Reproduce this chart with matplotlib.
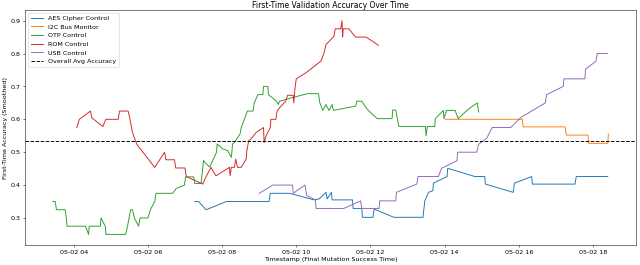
import matplotlib
matplotlib.use("Agg")
import matplotlib.pyplot as plt
import matplotlib.dates as mdates
import pandas as pd

DATE = "2024-05-02 "

aes_t = ["07:16", "07:22", "07:34", "08:07", "09:16", "09:18", "09:49", "10:29", "10:37", "10:48",
         "10:50", "10:57", "10:58", "11:31", "11:32", "11:46", "11:47", "12:04", "12:06", "12:38",
         "13:25", "13:28", "13:34", "13:41", "13:42", "14:04", "14:05", "14:49", "15:05", "15:06",
         "15:51", "15:53", "16:21", "16:22", "17:31", "17:33", "18:24"]
aes_v = [0.350, 0.350, 0.325, 0.350, 0.350, 0.375, 0.375, 0.355, 0.358, 0.378,
         0.358, 0.378, 0.355, 0.355, 0.329, 0.329, 0.302, 0.302, 0.327, 0.302,
         0.302, 0.352, 0.378, 0.383, 0.406, 0.426, 0.451, 0.426, 0.426, 0.403,
         0.378, 0.406, 0.426, 0.403, 0.403, 0.426, 0.426]

i2c_t = ["14:01", "16:06", "16:07", "17:15", "17:17", "17:52", "17:53", "18:24", "18:25"]
i2c_v = [0.600, 0.600, 0.577, 0.577, 0.552, 0.552, 0.527, 0.527, 0.555]

otp_t = ["03:26", "03:30", "03:32", "03:46", "03:48", "03:49", "04:19", "04:24", "04:25", "04:43",
         "04:44", "04:51", "04:52", "05:24", "05:27", "05:32", "05:35", "05:38", "05:45", "05:47",
         "06:00", "06:04", "06:11", "06:13", "06:40", "06:46", "06:59", "07:01", "07:14", "07:16",
         "07:26", "07:30", "07:33", "07:40", "07:51", "07:52", "08:01", "08:09", "08:15", "08:16",
         "08:17", "08:20", "08:29", "08:31", "08:36", "08:41", "08:50", "08:52", "08:58", "09:06",
         "09:07", "09:14", "09:15", "09:28", "09:31", "09:33", "09:54", "10:18", "10:36", "10:38",
         "10:43", "10:48", "10:53", "10:58", "11:00", "11:36", "11:38", "11:46", "11:55", "12:11",
         "12:35", "12:36", "12:41", "12:46", "13:29", "13:30", "13:32", "13:44", "13:45", "13:58",
         "13:59", "14:03", "14:17", "14:22", "14:38", "14:53", "14:55"]
otp_v = [0.350, 0.350, 0.325, 0.325, 0.300, 0.275, 0.275, 0.250, 0.275, 0.275,
         0.300, 0.275, 0.250, 0.250, 0.275, 0.325, 0.325, 0.300, 0.275, 0.300,
         0.300, 0.325, 0.350, 0.375, 0.375, 0.390, 0.400, 0.425, 0.425, 0.405,
         0.405, 0.475, 0.467, 0.455, 0.500, 0.525, 0.510, 0.505, 0.484, 0.505,
         0.525, 0.530, 0.555, 0.575, 0.600, 0.625, 0.625, 0.650, 0.675, 0.675,
         0.700, 0.700, 0.675, 0.655, 0.645, 0.655, 0.666, 0.678, 0.678, 0.651,
         0.627, 0.645, 0.627, 0.645, 0.627, 0.640, 0.655, 0.655, 0.630, 0.602,
         0.602, 0.628, 0.628, 0.578, 0.578, 0.550, 0.578, 0.578, 0.602, 0.627,
         0.602, 0.627, 0.627, 0.602, 0.630, 0.650, 0.622]

rom_t = ["04:05", "04:09", "04:27", "04:29", "04:47", "04:52", "05:12", "05:14", "05:28", "05:31",
         "05:35", "05:42", "06:11", "06:27", "06:29", "06:43", "06:45", "07:00", "07:02", "07:29",
         "07:32", "07:42", "07:50", "08:12", "08:13", "08:15", "08:20", "08:22", "08:25", "08:31",
         "08:39", "08:40", "08:43", "08:49", "08:55", "09:03", "09:07", "09:08", "09:11", "09:18",
         "09:19", "09:27", "09:29", "09:33", "09:43", "09:46", "09:55", "09:56", "09:57", "09:58",
         "10:00", "10:16", "10:40", "10:45", "10:48", "11:01", "11:03", "11:12", "11:14", "11:15",
         "11:16", "11:25", "11:36", "11:53", "12:13"]
rom_v = [0.575, 0.600, 0.625, 0.605, 0.578, 0.600, 0.600, 0.625, 0.625, 0.600,
         0.560, 0.524, 0.454, 0.500, 0.477, 0.477, 0.452, 0.452, 0.426, 0.403,
         0.418, 0.454, 0.428, 0.454, 0.428, 0.454, 0.454, 0.479, 0.454, 0.454,
         0.479, 0.504, 0.534, 0.545, 0.560, 0.570, 0.575, 0.529, 0.549, 0.575,
         0.600, 0.600, 0.625, 0.635, 0.655, 0.673, 0.673, 0.650, 0.673, 0.696,
         0.723, 0.742, 0.777, 0.802, 0.827, 0.852, 0.875, 0.875, 0.900, 0.850,
         0.875, 0.875, 0.850, 0.850, 0.825]

usb_t = ["09:00", "09:22", "09:54", "09:55", "10:14", "10:17", "10:31", "10:32", "11:17", "11:44",
         "11:46", "12:14", "12:15", "12:41", "12:42", "13:15", "13:17", "13:50", "13:55", "14:20",
         "14:21", "14:52", "14:55", "15:08", "15:17", "15:47", "16:03", "16:43", "16:45", "17:12",
         "17:13", "17:47", "17:48", "18:05", "18:07", "18:24"]
usb_v = [0.375, 0.400, 0.400, 0.375, 0.400, 0.368, 0.355, 0.329, 0.329, 0.352,
         0.329, 0.329, 0.352, 0.352, 0.378, 0.403, 0.426, 0.426, 0.451, 0.474,
         0.500, 0.500, 0.524, 0.542, 0.575, 0.575, 0.605, 0.650, 0.675, 0.700,
         0.723, 0.723, 0.752, 0.777, 0.800, 0.800]

overall_avg = 0.533

series = [
    ("AES Cipher Control", aes_t, aes_v, "tab:blue"),
    ("I2C Bus Monitor", i2c_t, i2c_v, "tab:orange"),
    ("OTP Control", otp_t, otp_v, "tab:green"),
    ("ROM Control", rom_t, rom_v, "tab:red"),
    ("USB Control", usb_t, usb_v, "tab:purple"),
]

fig, ax = plt.subplots(figsize=(14, 5.8), dpi=640 / 14)
for name, t, v, c in series:
    ts = pd.to_datetime([DATE + s for s in t])
    ax.plot(ts, v, label=name, color=c, linewidth=1.5)
ax.axhline(overall_avg, color="black", linestyle="--", linewidth=1.5, label="Overall Avg Accuracy")

ax.set_title("First-Time Validation Accuracy Over Time", pad=4)
ax.set_xlabel("Timestamp (Final Mutation Success Time)")
ax.set_ylabel("First-Time Accuracy (Smoothed)")
ax.xaxis.set_major_locator(mdates.HourLocator(byhour=range(0, 24, 2)))
ax.xaxis.set_major_formatter(mdates.DateFormatter("%m-%d %H"))
ax.legend(loc="upper left")
fig.subplots_adjust(left=0.039, right=0.994, top=0.962, bottom=0.075)
fig.savefig("out.png", dpi=640 / 14)
